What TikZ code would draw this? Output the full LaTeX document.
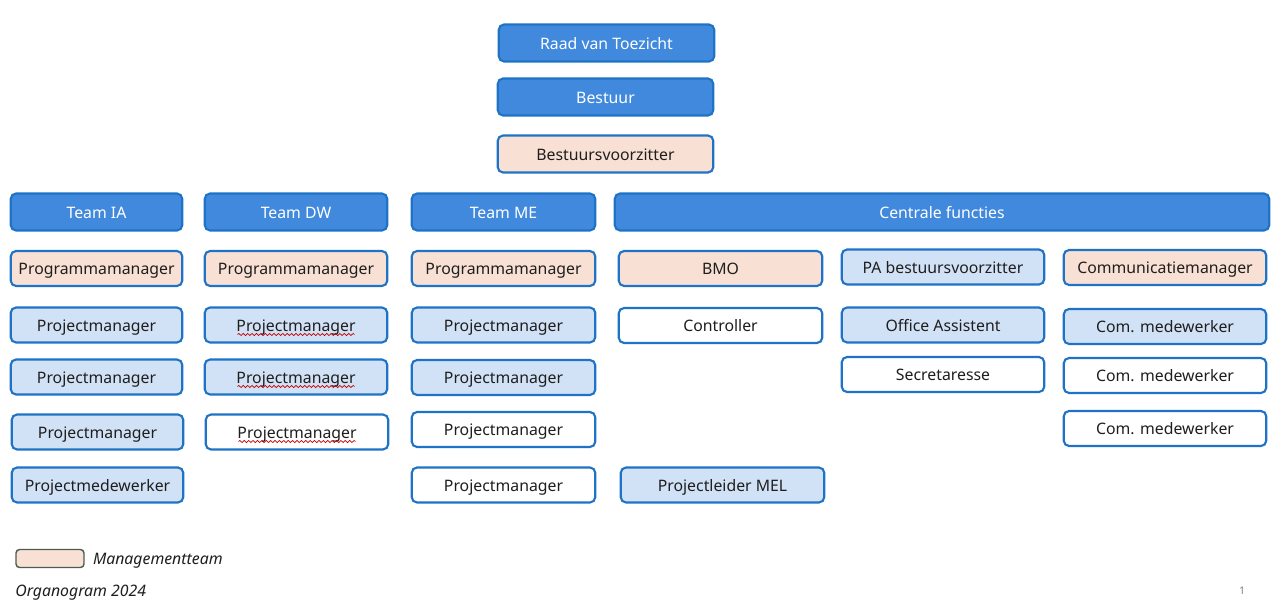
\documentclass[tikz,border=0pt]{standalone}
\usepackage{fontspec}
\setmainfont{Noto Sans}
\usetikzlibrary{positioning,decorations.pathmorphing}

\definecolor{boxline}{HTML}{1E73C6}
\definecolor{darkblue}{HTML}{4189DD}
\definecolor{peach}{HTML}{F8E1D4}
\definecolor{lightblue}{HTML}{D2E2F6}
\definecolor{textdark}{HTML}{1E1E1E}
\definecolor{legendline}{HTML}{4D5B52}

\tikzset{
  box/.style={draw=boxline, line width=1.2pt, rounded corners=3pt, inner sep=0pt,
    text=textdark, font=\fontsize{9}{11}\selectfont,
    text height=0.78em, text depth=0.06em,
    minimum width=#1*0.02cm-2pt, minimum height=0.70cm},
  box/.default=175,
  dark/.style={box=#1, fill=darkblue, text=white, minimum height=0.74cm},
  dark/.default=219,
  mt/.style={box=#1, fill=peach},
  mt/.default=175,
  light/.style={box=#1, fill=lightblue},
  light/.default=175,
  plain/.style={box=#1, fill=white},
  plain/.default=175,
  squiggle/.style={draw=red!75!black, line width=0.4pt,
    decorate, decoration={snake, amplitude=0.6pt, segment length=2.5pt}},
  note/.style={inner sep=0pt, text height=0.78em, text depth=0.06em,
    font=\fontsize{9}{11}\selectfont\itshape, text=textdark}
}

\begin{document}
\begin{tikzpicture}[x=0.02cm, y=-0.02cm]
  \useasboundingbox (0,0) rectangle (1273,601);

  % top
  \node[dark=219] (rvt) at (606.5,43) {Raad van Toezicht};
  \node[dark=219] (bestuur) at (605.5,97) {Bestuur};
  \node[mt=219, minimum height=0.74cm] (bv) at (605.5,154) {Bestuursvoorzitter};

  % teams
  \node[dark=175] (teamIA) at (96.5,212) {Team IA};
  \node[dark=186] (teamDW) at (296,212) {Team DW};
  \node[dark=187] (teamME) at (503.5,212) {Team ME};
  \node[dark=658] (centraal) at (942,212) {Centrale functies};

  % Team IA
  \node[mt=175] (pmIA) at (96.5,268.5) {Programmamanager};
  \node[light=175] (pIA1) at (96.5,325) {Projectmanager};
  \node[light=175] (pIA2) at (96.5,377) {Projectmanager};
  \node[light=175] (pIA3) at (97.5,432) {Projectmanager};
  \node[light=175] (medIA) at (97.5,485) {Projectmedewerker};

  % Team DW
  \node[mt=186] (pmDW) at (296,268.5) {Programmamanager};
  \node[light=186] (pDW1) at (296,325) {Projectmanager};
  \node[light=186] (pDW2) at (296,377) {Projectmanager};
  \node[plain=186] (pDW3) at (297,432) {Projectmanager};
  \foreach \n in {pDW1,pDW2,pDW3}
    \draw[squiggle] ([xshift=-1.17cm,yshift=-0.19cm]\n.center) -- +(2.34cm,0);

  % Team ME
  \node[mt=187] (pmME) at (503.5,268.5) {Programmamanager};
  \node[light=187] (pME1) at (503.5,325) {Projectmanager};
  \node[light=187] (pME2) at (503.5,377.5) {Projectmanager};
  \node[plain=187] (pME3) at (503.5,429.5) {Projectmanager};
  \node[plain=187] (pME4) at (503.5,485) {Projectmanager};

  % Centrale functies
  \node[mt=207] (bmo) at (720.5,268.5) {BMO};
  \node[plain=207] (controller) at (720.5,325.5) {Controller};
  \node[light=207] (mel) at (722.5,485) {Projectleider MEL};
  \node[light=206] (pa) at (943,267) {PA bestuursvoorzitter};
  \node[light=206] (office) at (943,325) {Office Assistent};
  \node[plain=206] (secr) at (943,374.5) {Secretaresse};
  \node[mt=206] (comm) at (1165,267.5) {Communicatiemanager};
  \node[light=206] (com1) at (1165,326.5) {Com. medewerker};
  \node[plain=206] (com2) at (1165,375.5) {Com. medewerker};
  \node[plain=206] (com3) at (1165,428.5) {Com. medewerker};

  % legenda
  \node[draw=legendline, fill=peach, line width=0.8pt, rounded corners=2pt,
    minimum width=1.36cm, minimum height=0.36cm, inner sep=0pt] (legbox) at (50,558.5) {};
  \node[note, right=0.16cm of legbox] (legtext) {Managementteam};
  \node[note, anchor=west] (titel) at (15,590) {Organogram 2024};
  \node[inner sep=0pt, font=\fontsize{6}{7}\selectfont, text=gray] (pagina) at (1242,591) {1};
\end{tikzpicture}
\end{document}
